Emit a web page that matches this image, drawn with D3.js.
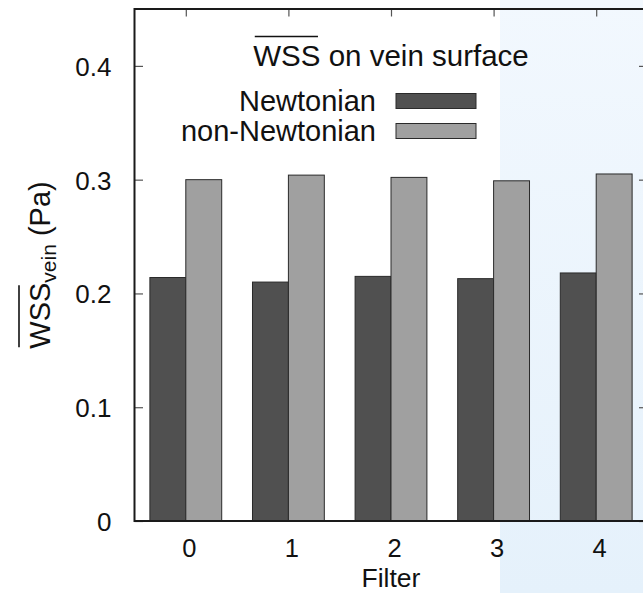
<!DOCTYPE html>
<html>
<head>
<meta charset="utf-8">
<script src="https://cdn.jsdelivr.net/npm/d3@7"></script>
<style>
  html, body { margin: 0; padding: 0; background: #ffffff; }
  svg { display: block; font-family: "Liberation Sans", Arial, Helvetica, sans-serif; }
</style>
</head>
<body>
<svg id="chart" width="643" height="593"></svg>
<script>
// Filter cases on the x axis
const filters = ["0", "1", "2", "3", "4"];
// Mean wall shear stress on the vein surface (Pa)
const newtonian    = [0.214, 0.210, 0.215, 0.213, 0.218];
const nonNewtonian = [0.300, 0.304, 0.302, 0.299, 0.305];
const seriesNames  = ["Newtonian", "non-Newtonian"];
const seriesFill   = ["#505050", "#a0a0a0"];
const yTicks       = [0, 0.1, 0.2, 0.3, 0.4];

const W = 643, H = 593;
const frame = { left: 134.5, right: 647.5, top: 9, bottom: 521 };

const svg = d3.select("#chart");

// shaded band on the right side of the figure
const defs = svg.append("defs");
const grad = defs.append("linearGradient")
  .attr("id", "band").attr("x1", 0).attr("y1", 0).attr("x2", 0).attr("y2", 1);
grad.append("stop").attr("offset", "0%").attr("stop-color", "#f2f8fe");
grad.append("stop").attr("offset", "100%").attr("stop-color", "#e5f1fb");
svg.append("rect")
  .attr("x", 500).attr("y", 0).attr("width", W - 500).attr("height", H)
  .attr("fill", "url(#band)");

const x = d3.scaleBand()
  .domain(filters)
  .range([frame.left, frame.right])
  .paddingInner(0.3)
  .paddingOuter(0.15);

const xSub = d3.scaleBand()
  .domain(seriesNames)
  .range([0, x.bandwidth()]);

const y = d3.scaleLinear()
  .domain([0, 0.45])
  .range([frame.bottom, frame.top]);

const rows = filters.map((f, i) => ({
  filter: f,
  values: [
    { name: seriesNames[0], v: newtonian[i] },
    { name: seriesNames[1], v: nonNewtonian[i] }
  ]
}));

// bars
const groups = svg.append("g").selectAll("g")
  .data(rows).join("g")
  .attr("transform", d => `translate(${x(d.filter)},0)`);

groups.selectAll("rect")
  .data(d => d.values).join("rect")
  .attr("x", d => xSub(d.name))
  .attr("width", xSub.bandwidth())
  .attr("y", d => y(d.v))
  .attr("height", d => y(0) - y(d.v))
  .attr("fill", d => seriesFill[seriesNames.indexOf(d.name)])
  .attr("stroke", "#2a2a2a")
  .attr("stroke-width", 1);

// axes: ticks point inward on all four sides
const fmt = d => d === 0 ? "0" : d3.format(".1f")(d);
const centre = d => x(d) + x.bandwidth() / 2;
const xc = d3.scaleOrdinal().domain(filters).range(filters.map(centre));

const leftAxis = svg.append("g")
  .attr("transform", `translate(${frame.left},0)`)
  .call(d3.axisLeft(y).tickValues(yTicks).tickFormat(fmt).tickSize(-8.5).tickPadding(23));

const rightAxis = svg.append("g")
  .attr("transform", `translate(${frame.right},0)`)
  .call(d3.axisRight(y).tickValues(yTicks).tickFormat("").tickSize(-8.5));

const bottomAxis = svg.append("g")
  .attr("transform", `translate(0,${frame.bottom})`)
  .call(d3.axisBottom(xc).tickSize(0).tickPadding(18));

const topAxis = svg.append("g")
  .attr("transform", `translate(0,${frame.top})`)
  .call(d3.axisTop(xc).tickFormat("").tickSize(-7.5));

[leftAxis, rightAxis, bottomAxis, topAxis].forEach(g => {
  g.select(".domain").remove();
  g.selectAll(".tick line").attr("stroke", "#555").attr("stroke-width", 1.2);
  g.selectAll("text")
    .attr("fill", "#111")
    .attr("font-size", 26)
    .attr("font-family", "'Liberation Sans', Arial, sans-serif");
});
bottomAxis.selectAll(".tick text").attr("dx", 3).attr("font-size", 25.5);
leftAxis.selectAll(".tick text").attr("dy", "0.36em");

// plot frame
svg.append("rect")
  .attr("x", frame.left).attr("y", frame.top)
  .attr("width", frame.right - frame.left)
  .attr("height", frame.bottom - frame.top)
  .attr("fill", "none")
  .attr("stroke", "#1a1a1a")
  .attr("stroke-width", 2);

// x axis title
svg.append("text")
  .attr("x", (frame.left + frame.right) / 2)
  .attr("y", 587)
  .attr("text-anchor", "middle")
  .attr("font-size", 26.5)
  .attr("fill", "#111")
  .text("Filter");

// overline helper: draws a bar above characters [i0, i1] of a text node
function overline(parent, textNode, i0, i1, rise) {
  const a = textNode.getStartPositionOfChar(i0);
  const b = textNode.getEndPositionOfChar(i1);
  parent.append("line")
    .attr("x1", a.x + 1.5).attr("x2", b.x - 2.5)
    .attr("y1", a.y - rise).attr("y2", a.y - rise)
    .attr("stroke", "#111").attr("stroke-width", 1.6);
}

// y axis title, rotated
const yLab = svg.append("g")
  .attr("transform", `translate(50,${(frame.top + frame.bottom) / 2}) rotate(-90)`);
const yText = yLab.append("text")
  .attr("text-anchor", "middle")
  .attr("font-size", 29)
  .attr("fill", "#111");
yText.append("tspan").text("WSS");
yText.append("tspan").attr("font-size", 21).attr("dy", 6).text("vein");
yText.append("tspan").attr("dy", -6).text(" (Pa)");
overline(yLab, yText.node(), 0, 2, 31);

// legend title and entries
const legend = svg.append("g");
const title = legend.append("text")
  .attr("x", (frame.left + frame.right) / 2)
  .attr("y", 66)
  .attr("text-anchor", "middle")
  .attr("font-size", 29.5)
  .attr("fill", "#111");
title.append("tspan").text("WSS");
title.append("tspan").text(" on vein surface");
overline(legend, title.node(), 0, 2, 29.5);

seriesNames.forEach((name, i) => {
  const cy = 101 + i * 30;
  legend.append("text")
    .attr("x", 376).attr("y", cy)
    .attr("dy", "0.36em")
    .attr("text-anchor", "end")
    .attr("font-size", 29)
    .attr("fill", "#111")
    .text(name);
  legend.append("rect")
    .attr("x", 396).attr("y", cy - 7.5)
    .attr("width", 80).attr("height", 15)
    .attr("fill", seriesFill[i])
    .attr("stroke", "#2a2a2a").attr("stroke-width", 1);
});
</script>
</body>
</html>
